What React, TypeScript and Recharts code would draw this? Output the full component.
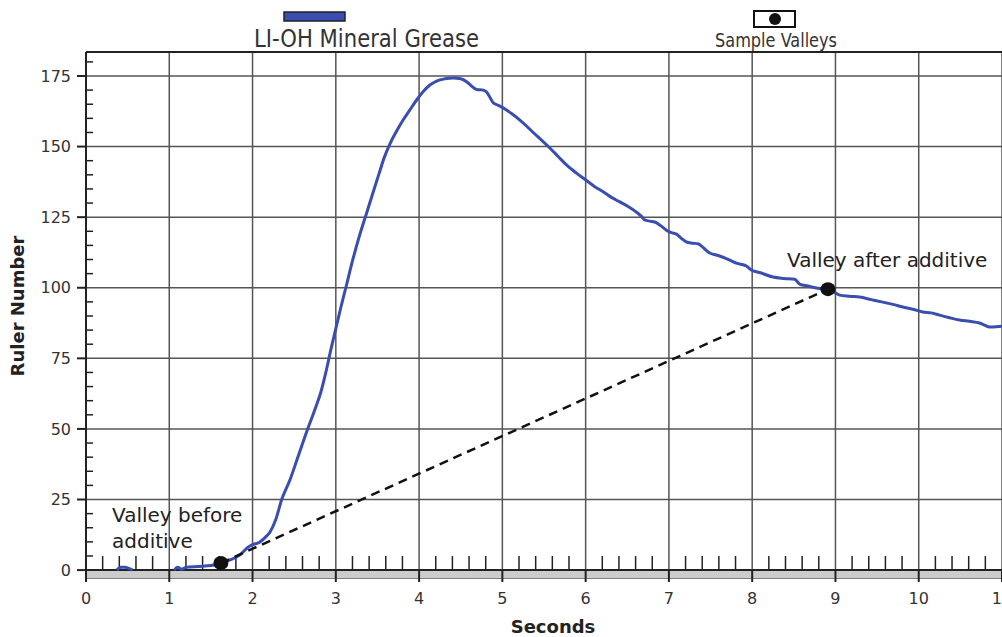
import React from 'react';
import {
  ComposedChart,
  Line,
  Scatter,
  XAxis,
  YAxis,
  CartesianGrid,
  ReferenceLine,
  ReferenceArea,
} from 'recharts';

// ---- data ----
const seconds = [
  0.37, 0.42, 0.47, 0.52, 0.56, 0.6,
  1.06, 1.1, 1.15, 1.2, 1.35, 1.5, 1.62, 1.73, 1.85, 1.95, 2.0, 2.08, 2.15, 2.21,
  2.28, 2.35, 2.45, 2.55, 2.65, 2.75, 2.82, 2.88, 2.94, 3.0, 3.06, 3.12, 3.2, 3.28,
  3.37, 3.45, 3.52, 3.58, 3.65, 3.73, 3.81, 3.89, 3.97, 4.05, 4.13, 4.21, 4.31, 4.41,
  4.5, 4.57, 4.64, 4.69, 4.77, 4.81, 4.85, 4.89, 4.95, 5.01, 5.11, 5.21, 5.29,
  5.37, 5.47, 5.57, 5.67, 5.77, 5.89, 6.01, 6.11, 6.21, 6.31, 6.41, 6.51, 6.61,
  6.67, 6.71, 6.77, 6.83, 6.9, 6.97, 7.03, 7.09, 7.15, 7.21, 7.28, 7.35, 7.42,
  7.49, 7.57, 7.65, 7.73, 7.81, 7.93, 7.99, 8.1, 8.25, 8.38, 8.51, 8.57, 8.67,
  8.77, 8.85, 8.93, 9.05, 9.17, 9.29, 9.43, 9.57, 9.69, 9.81, 9.93, 10.05,
  10.15, 10.25, 10.37, 10.49, 10.61, 10.73, 10.79, 10.85, 10.93, 11.0,
];
const rulerNumber: (number | null)[] = [
  0, 1, 1, 0.5, 0, null,
  0, 1, 0.3, 1, 1.3, 1.6, 2.5, 3.6, 5.4, 8.2, 9, 9.8, 11.5, 13.5,
  18, 25, 32, 40.5, 49, 57, 63, 70, 78, 85.5, 93, 100, 109.5, 118,
  126.5, 134, 140.5, 146, 151, 155.5, 159.5, 163, 166.5, 169.5, 171.8, 173.2, 174, 174.3,
  174, 173, 171.2, 170.2, 170, 169.3, 167.5, 165.5, 164.6, 163.7, 161.7, 159.4, 157.3,
  155, 152.3, 149.5, 146.5, 143.5, 140.6, 138, 135.8, 134, 132, 130.4, 128.8, 126.8,
  125.3, 124, 123.6, 123.3, 122, 120.4, 119.5, 119, 117.5, 116.2, 115.8, 115.6, 114,
  112.3, 111.6, 110.8, 109.8, 108.7, 107.7, 106.3, 105.3, 103.8, 103.3, 103, 101.3, 100.6,
  99.9, 99.5, 99.2, 97.4, 97.0, 96.7, 95.8, 94.9, 94.1, 93.2, 92.4, 91.4,
  91.1, 90.3, 89.4, 88.6, 88.1, 87.5, 86.8, 86.1, 86.2, 86.4,
];
const valleySeconds = [1.62, 8.91];
const valleyRuler = [2.5, 99.5];
const valleyLabels = ['Valley before additive', 'Valley after additive'];

const xTicks = [0, 1, 2, 3, 4, 5, 6, 7, 8, 9, 10, 11];
const yTicks = [0, 25, 50, 75, 100, 125, 150, 175];
const xDomain: [number, number] = [0, 11];
const yDomain: [number, number] = [-2.8, 183.5];

const curveData = seconds.map((t, i) => ({ t, v: rulerNumber[i] }));
const valleyData = valleySeconds.map((t, i) => ({ t, v: valleyRuler[i], label: valleyLabels[i] }));

// minor ticks (axis decoration)
const xMinor: number[] = [];
for (let i = 1; i < 55; i++) {
  if (i % 5 !== 0) xMinor.push(Math.round(i * 20) / 100);
}
const yMinor: number[] = [];
for (let v = 5; v <= 180; v += 5) {
  if (v % 25 !== 0) yMinor.push(v);
}

const BLUE = '#3a4db0';
const GRID = '#555';
const AXIS = '#222';
const TXT = '#333';
const FONT = '"DejaVu Sans", Verdana, sans-serif';
const NARROW = '"Liberation Sans Narrow", "DejaVu Sans Condensed", "Liberation Sans", sans-serif';

export default function App() {
  return (
    <div style={{ position: 'absolute', left: 0, top: 0, width: 1002, height: 637, background: '#fff' }}>
      <ComposedChart
        width={1002}
        height={637}
        data={curveData}
        margin={{ top: 52, right: 0, left: 0, bottom: 19 }}
      >
        <ReferenceArea y1={yDomain[0]} y2={0} x1={0} x2={11} fill="#cccccc" fillOpacity={1} stroke="none" ifOverflow="visible" />
        <CartesianGrid stroke={GRID} strokeWidth={1.5} strokeOpacity={1} />
        <XAxis
          type="number"
          dataKey="t"
          domain={xDomain}
          ticks={xTicks}
          interval={0}
          allowDataOverflow
          height={40}
          axisLine={false}
          tickLine={{ stroke: AXIS, strokeWidth: 2 }}
          tickSize={4}
          tickMargin={11}
          tick={{ fill: TXT, fontSize: 16, fontFamily: FONT }}
          label={{
            content: () => (
              <text x={553} y={633} textAnchor="middle" fontFamily={FONT} fontWeight="bold" fontSize={18} fill="#222">
                Seconds
              </text>
            ),
          }}
        />
        <YAxis
          type="number"
          dataKey="v"
          domain={yDomain}
          ticks={yTicks}
          interval={0}
          allowDataOverflow
          width={86}
          axisLine={{ stroke: AXIS, strokeWidth: 2 }}
          tickLine={{ stroke: AXIS, strokeWidth: 2 }}
          tickSize={9}
          tickMargin={6}
          tick={{ fill: TXT, fontSize: 16, fontFamily: FONT }}
          label={{
            content: () => (
              <text
                x={24}
                y={306}
                transform="rotate(-90 24 306)"
                textAnchor="middle"
                fontFamily={FONT}
                fontWeight="bold"
                fontSize={18}
                fill="#222"
              >
                Ruler Number
              </text>
            ),
          }}
        />
        <ReferenceLine y={yDomain[1]} stroke={AXIS} strokeWidth={2} ifOverflow="visible" />
        {xTicks.map((t) => (
          <ReferenceLine
            key={'xm' + t}
            segment={[{ x: t, y: yDomain[0] }, { x: t, y: 0 }]}
            stroke={AXIS}
            strokeWidth={2}
            ifOverflow="visible"
          />
        ))}
        {xMinor.map((t) => (
          <ReferenceLine
            key={'xn' + t}
            segment={[{ x: t, y: 0 }, { x: t, y: 5 }]}
            stroke={AXIS}
            strokeWidth={1.5}
            ifOverflow="visible"
          />
        ))}
        {yMinor.map((v) => (
          <ReferenceLine
            key={'yn' + v}
            segment={[{ x: 0, y: v }, { x: 0.085, y: v }]}
            stroke={AXIS}
            strokeWidth={1.5}
            ifOverflow="visible"
          />
        ))}
        <ReferenceLine y={0} stroke={AXIS} strokeWidth={2} ifOverflow="visible" />
        <Line
          type="monotone"
          dataKey="v"
          stroke={BLUE}
          strokeWidth={3}
          dot={false}
          activeDot={false}
          connectNulls={false}
          isAnimationActive={false}
        />
        <Line
          data={valleyData}
          type="linear"
          dataKey="v"
          stroke="#111"
          strokeWidth={2.5}
          strokeDasharray="9 6"
          dot={false}
          activeDot={false}
          isAnimationActive={false}
        />
        <Scatter
          data={valleyData}
          dataKey="v"
          fill="#111"
          isAnimationActive={false}
          shape={(p: any) => <ellipse cx={p.cx} cy={p.cy} rx={7.5} ry={7} fill="#111" />}
        />
      </ComposedChart>

      {/* annotations */}
      <div
        style={{
          position: 'absolute', left: 112, top: 502, width: 160, fontFamily: FONT, fontSize: 20,
          lineHeight: '26px', color: '#222', whiteSpace: 'normal',
        }}
      >
        Valley before
        <br />
        additive
      </div>
      <div
        style={{
          position: 'absolute', left: 787, top: 247, fontFamily: FONT, fontSize: 20,
          lineHeight: '26px', color: '#222', whiteSpace: 'nowrap',
        }}
      >
        Valley after additive
      </div>

      {/* legend */}
      <svg width={1002} height={52} style={{ position: 'absolute', left: 0, top: 0 }}>
        <rect x={284} y={12} width={61} height={9} fill={BLUE} stroke="#222" strokeWidth={1.5} />
        <text x={254} y={47} fontFamily={NARROW} fontSize={25} fill={TXT} textLength={225} lengthAdjust="spacingAndGlyphs">
          LI-OH Mineral Grease
        </text>
        <rect x={754} y={11} width={41} height={16} fill="#fff" stroke="#111" strokeWidth={2} />
        <circle cx={775} cy={19} r={6} fill="#111" />
        <text x={715} y={47} fontFamily={NARROW} fontSize={19} fill={TXT} textLength={122} lengthAdjust="spacingAndGlyphs">
          Sample Valleys
        </text>
      </svg>
    </div>
  );
}
